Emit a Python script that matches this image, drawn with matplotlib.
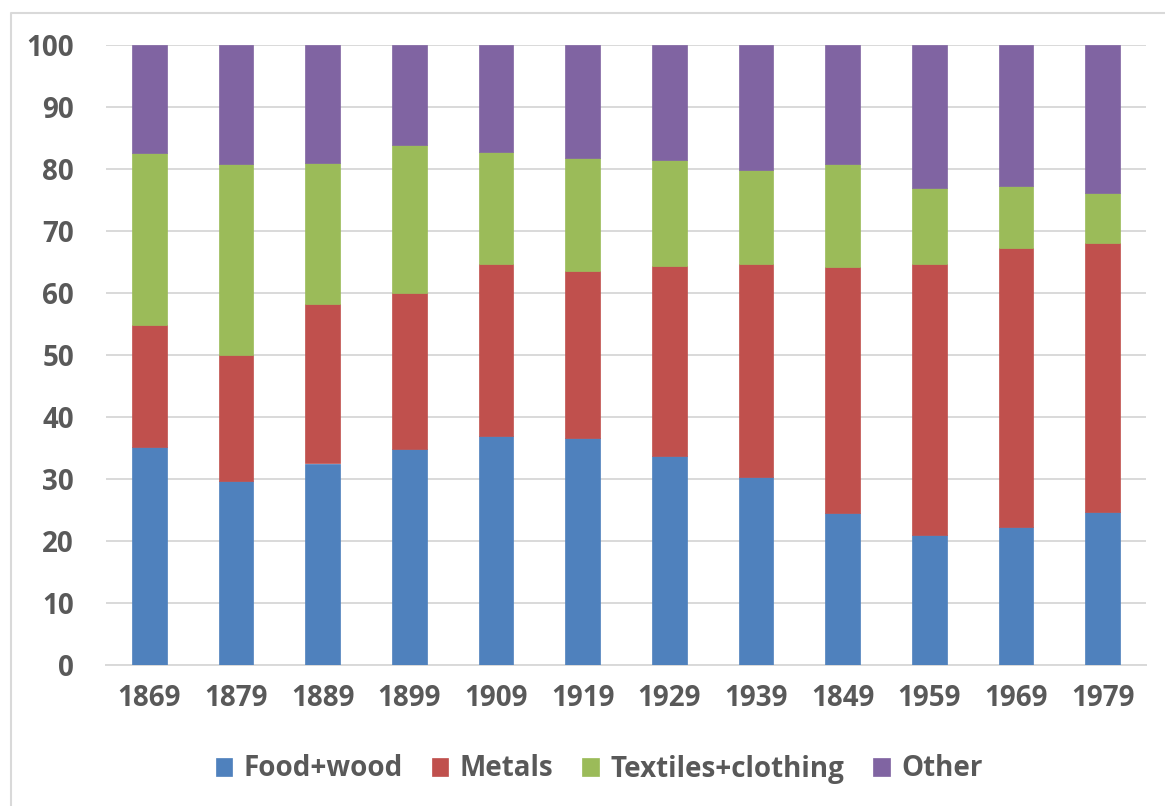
import matplotlib
matplotlib.use("Agg")
import matplotlib.pyplot as plt
import numpy as np
from matplotlib.lines import Line2D

plt.rcParams["font.family"] = ["Open Sans", "DejaVu Sans"]

years = ["1869", "1879", "1889", "1899", "1909", "1919", "1929", "1939", "1849", "1959", "1969", "1979"]
food_wood = [35.2, 29.7, 32.5, 34.9, 37.0, 36.6, 33.7, 30.4, 24.5, 20.9, 22.2, 24.7]
metals = [19.7, 20.3, 25.8, 25.1, 27.7, 26.9, 30.7, 34.2, 39.7, 43.7, 45.0, 43.4]
textiles = [27.7, 30.8, 22.7, 23.9, 18.0, 18.3, 17.0, 15.2, 16.6, 12.3, 10.1, 8.0]
other = [17.4, 19.2, 19.0, 16.1, 17.3, 18.2, 18.6, 20.2, 19.2, 23.1, 22.7, 23.9]

series = [
    ("Food+wood", food_wood, "#4F81BD"),
    ("Metals", metals, "#C0504D"),
    ("Textiles+clothing", textiles, "#9BBB59"),
    ("Other", other, "#8064A2"),
]

text_color = "#595959"
grid_color = "#D9D9D9"

fig = plt.figure(figsize=(11.65, 8.06), dpi=100)
ax = fig.add_axes([106 / 1165, 1 - 665 / 806, 1040 / 1165, 620 / 806])

x = np.arange(len(years))
bottom = np.zeros(len(years))
for name, vals, color in series:
    ax.bar(x, vals, width=0.4, bottom=bottom, color=color, edgecolor=color,
           linewidth=0.5, label=name, zorder=3)
    bottom += np.array(vals)

ax.set_xlim(-0.5, len(years) - 0.5)
ax.set_ylim(0, 100)
ax.set_yticks(range(0, 101, 10))
ax.set_xticks(x)
ax.set_xticklabels(years)
ax.yaxis.grid(True, color=grid_color, linewidth=1.4, zorder=0)
ax.set_axisbelow(True)
for side in ["top", "right", "left"]:
    ax.spines[side].set_visible(False)
ax.spines["bottom"].set_color(grid_color)
ax.spines["bottom"].set_linewidth(1.4)
ax.tick_params(axis="both", length=0, labelsize=20, labelcolor=text_color)
ax.tick_params(axis="y", pad=23)
ax.tick_params(axis="x", pad=14)
for lbl in ax.get_xticklabels() + ax.get_yticklabels():
    lbl.set_fontweight("bold")

leg = fig.legend(
    loc="center",
    bbox_to_anchor=(599 / 1165, 1 - 769 / 806),
    ncol=4,
    frameon=False,
    handlelength=0.6,
    handleheight=0.6,
    handletextpad=0.4,
    columnspacing=1.05,
    prop={"size": 20, "weight": "bold"},
)
for t in leg.get_texts():
    t.set_color(text_color)

# chart area border (left and top edges)
fig.add_artist(Line2D([10.5 / 1165, 10.5 / 1165, 1.0], [0.0, 1 - 13 / 806, 1 - 13 / 806],
                      color=grid_color, linewidth=1.5, transform=fig.transFigure))

fig.savefig("out.png", dpi=100)
